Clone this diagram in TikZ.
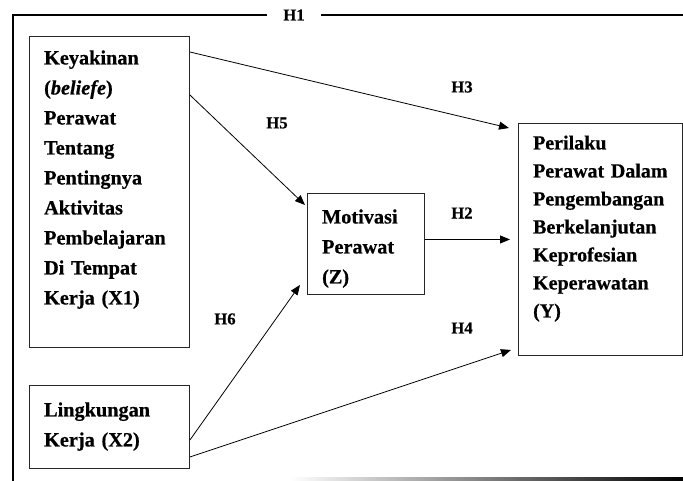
\documentclass[tikz,border=0pt]{standalone}
\usepackage{fontspec}
\setmainfont[BoldFeatures={FakeBold=0.6},BoldItalicFeatures={FakeBold=0.6}]{Liberation Serif}
\usetikzlibrary{positioning,arrows.meta}

\begin{document}
\begin{tikzpicture}[
      x=0.75pt,y=-0.75pt,
      varbox/.style={draw=black!85,line width=0.7pt,anchor=north west,inner xsep=11pt,inner ysep=0pt,align=left,font=\bfseries\fontsize{15.2}{22.5}\selectfont},
      hyp/.style={font=\bfseries\fontsize{12.5}{15}\selectfont,inner sep=1pt},
      link/.style={line width=0.6pt,-{Triangle[length=7.5pt,width=6pt]}},
      frame/.style={line width=1.8pt},
    ]
    \useasboundingbox (0,0) rectangle (683,481);
    \node[varbox,text width=98pt,text height=21pt,text depth=212.25pt] (x1) at (29,36) {Keyakinan\\(\textit{beliefe})\\Perawat\\Tentang\\Pentingnya\\Aktivitas\\Pembelajaran\\Di Tempat\\Kerja (X1)};
    \node[varbox,text width=98pt,text height=23.25pt,text depth=39pt] (x2) at (29,385) {Lingkungan\\Kerja (X2)};
    \node[varbox,text width=65.75pt,text height=22.5pt,text depth=53.25pt] (z) at (307,193) {Motivasi\\Perawat\\(Z)};
    \node[varbox,text width=101pt,text height=19.5pt,text depth=154.5pt,font=\bfseries\fontsize{15}{21}\selectfont] (y) at (518,123) {Perilaku\\Perawat Dalam\\Pengembangan\\Berkelanjutan\\Keprofesian\\Keperawatan\\(Y)};
    % hypotheses
    \node[hyp,inner xsep=12pt] (h1) at (294,15) {H1};
    \node[hyp] (h2) at (462,213) {H2};
    \node[hyp] (h3) at (462,87) {H3};
    \node[hyp] (h4) at (462,328) {H4};
    \node[hyp] (h5) at (277,123) {H5};
    \node[hyp] (h6) at (225,319) {H6};
    % outer H1 frame
    \coordinate (fl) at (13,482);
    \coordinate (fr) at (683,15);
    \draw[frame] (fl) |- (h1.west);
    \draw[frame] (h1.east) -- (fr |- h1.east);
    \shade[left color=white,right color=black] (290,477.5) rectangle (683,480.5);
    % paths
    \draw[link] ([yshift=-12pt]x1.north east) -- ([xshift=-6.75pt,yshift=-3.75pt]y.north west);
    \draw[link] ([yshift=-44.25pt]x1.north east) -- ([xshift=-1.5pt,yshift=-9pt]z.north west);
    \draw[link] (z.east |- y.west) -- ([xshift=-6pt]y.west);
    \draw[link] ([yshift=-41.25pt]x2.north east) -- ([xshift=-5.25pt,yshift=7.5pt]z.south west);
    \draw[link] ([yshift=-54pt]x2.north east) -- ([xshift=-5.25pt,yshift=4.5pt]y.south west);
  \end{tikzpicture}
\end{document}
